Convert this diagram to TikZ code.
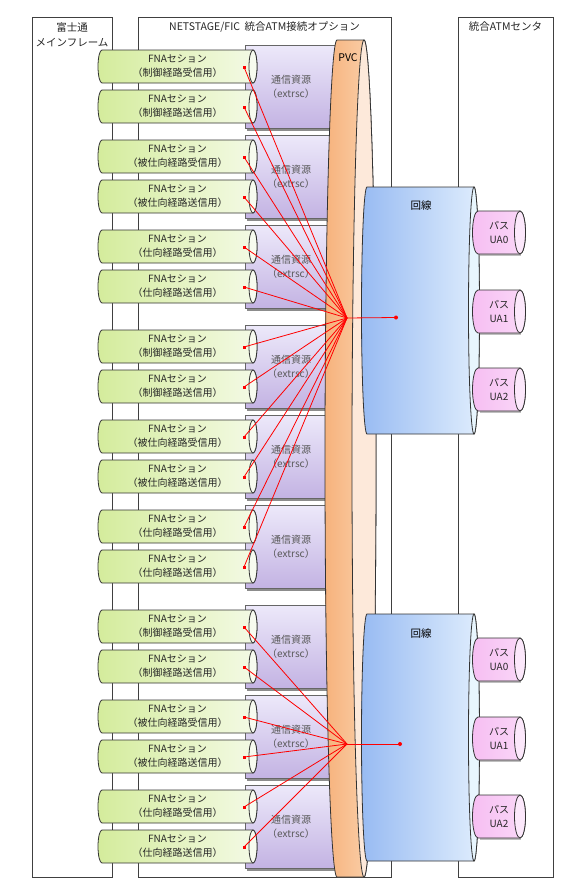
\documentclass[tikz,border=0pt]{standalone}
\usepackage{fontspec}
\newfontfamily\jpfont{Noto Sans CJK JP}
\usepackage{tikz}
\usetikzlibrary{positioning}

\definecolor{framegray}{HTML}{404040}
\definecolor{fnaL}{HTML}{D4EC9C}
\definecolor{fnaR}{HTML}{F4FAE6}
\definecolor{fnaE}{HTML}{F7FBEF}
\definecolor{resT}{HTML}{EDE9FA}
\definecolor{resB}{HTML}{C3B3E3}
\definecolor{pvcL}{HTML}{F6B27C}
\definecolor{pvcR}{HTML}{FBD3AF}
\definecolor{pvcE}{HTML}{FDE9DA}
\definecolor{lineL}{HTML}{98BBF2}
\definecolor{lineR}{HTML}{DFEDFD}
\definecolor{lineE}{HTML}{E8F6FE}
\definecolor{pasL}{HTML}{F6BEF2}
\definecolor{pasR}{HTML}{FAD8F8}
\definecolor{pasE}{HTML}{FCE8FB}

% horizontal can: back x, front x, top y, bottom y, end radius, body style, end style
\newcommand{\hcan}[7]{%
  \path[#6] (#1,#3) -- (#2,#3)
    arc[start angle=-90, end angle=90, x radius=#5, y radius={((#4)-(#3))/2}]
    -- (#1,#4)
    arc[start angle=90, end angle=270, x radius=#5, y radius={((#4)-(#3))/2}] -- cycle;
  \path[#7] (#2,{((#3)+(#4))/2}) ellipse[x radius=#5, y radius={((#4)-(#3))/2}];
}

\tikzset{
  frame/.style={draw=framegray, line width=0.8pt, fill=white},
  title/.style={font=\jpfont\fontsize{10.5}{16}\selectfont, text=black!85, align=center, inner sep=0pt},
  lbl/.style={font=\jpfont\fontsize{10}{14}\selectfont, text=black!85, align=center, inner sep=0pt},
  edge/.style={draw=black!80, line width=0.8pt},
  fnabody/.style={edge, left color=fnaL, right color=fnaR},
  fnaend/.style={edge, fill=fnaE},
  resbox/.style={draw=black!60, line width=0.8pt, top color=resT, bottom color=resB},
  boxshadow/.style={fill=black!45},
  pvcbody/.style={edge, left color=pvcL, right color=pvcR},
  pvcend/.style={edge, fill=pvcE},
  linebody/.style={edge, left color=lineL, right color=lineR},
  lineend/.style={edge, fill=lineE},
  pasbody/.style={edge, left color=pasL, right color=pasR},
  pasend/.style={edge, fill=pasE},
  sig/.style={red, line width=0.8pt},
  fnadot/.style={rectangle, fill=red, minimum size=3pt, inner sep=0pt},
  linedot/.style={circle, fill=red, minimum size=4pt, inner sep=0pt}
}

\begin{document}
\begin{tikzpicture}[x=1pt, y=-1pt]
  \useasboundingbox (0,0) rectangle (584,886);

  % the three frames
  \draw[frame] (32,17) rectangle (112,877);
  \draw[frame] (138,17) rectangle (391,877);
  \draw[frame] (458,17) rectangle (553,877);
  \node[title, anchor=base] (host) at (72,31) {富士通};
  \node[title, anchor=base] (hostsub) at (72,46) {メインフレーム};
  \node[title] (netstage) at (264.5,27) {NETSTAGE/FIC\ \ 統合ATM接続オプション};
  \node[title] (center) at (505.5,27) {統合ATMセンタ};

  % resources and FNA sessions
  \foreach \g in {0,1,2}{
    \foreach \p/\kind in {0/制御,1/被仕向,2/仕向}{
      \pgfmathsetmacro{\bt}{45+280*\g+90*\p}
      \pgfmathsetmacro{\bb}{\bt+83}
      \fill[boxshadow] (247,\bt+3) rectangle (342,\bb+2.5);
      \draw[resbox] (245,\bt) rectangle (340,\bb);
      \node[lbl, text=black!65] (res-\g-\p) at (291,\bt+41.5) {通信資源\\（extrsc）};
      \foreach \m/\way in {0/受,1/送}{
        \pgfmathsetmacro{\ct}{\bt+5+40*\m}
        \pgfmathsetmacro{\cb}{\ct+33}
        \hcan{102}{253}{\ct}{\cb}{4}{fnabody}{fnaend}
        \node[lbl] (fna-\g-\p-\m) at (177.5,\ct+16.5) {FNAセション\\（\kind 経路\way 信用）};
        \node[fnadot] (dot-\g-\p-\m) at (244,\ct+17) {};
      }
    }
  }

  % PVC
  \hcan{337}{364}{40}{877}{12}{pvcbody}{pvcend}
  \node[title, text=black] (pvc) at (348,58) {PVC};
  \coordinate (pvc1) at (347,318);
  \coordinate (pvc2) at (347,744);

  % lines and paths
  \foreach \n/\lt in {1/187,2/614}{
    \pgfmathsetmacro{\lb}{\lt+247}
    \hcan{367}{474}{\lt}{\lb}{5.5}{linebody}{lineend}
    \node[title, text=black] (line\n) at (421,\lt+19) {回線};
    \foreach \k/\off in {0/24,1/103,2/181}{
      \pgfmathsetmacro{\pt}{\lt+\off}
      \pgfmathsetmacro{\pb}{\pt+43}
      \fill[black!25] (480,\pb) rectangle (521,\pb+2);
      \hcan{478}{520}{\pt}{\pb}{5.5}{pasbody}{pasend}
      \node[lbl] (ua\n-\k) at (499,\pt+21.5) {パス\\UA\k};
    }
  }
  \node[linedot] (ld1) at (396,317.5) {};
  \node[linedot] (ld2) at (400,744) {};

  % signal lines
  \foreach \g/\c in {0/1,1/1,2/2}{
    \foreach \p in {0,1,2}{
      \foreach \m in {0,1}{
        \draw[sig] (dot-\g-\p-\m.center) -- (pvc\c);
      }
    }
  }
  \draw[sig] (pvc1) -- (ld1.center);
  \draw[sig] (pvc2) -- (ld2.center);
\end{tikzpicture}
\end{document}
